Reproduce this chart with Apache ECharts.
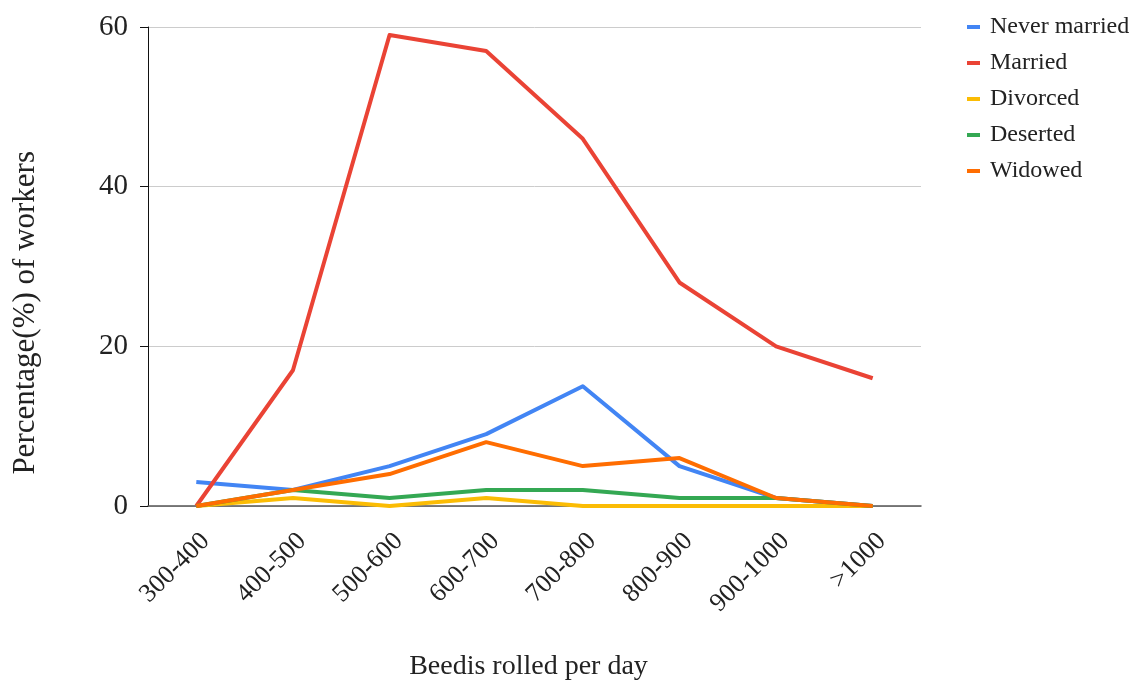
<!DOCTYPE html>
<html>
<head>
<meta charset="utf-8">
<title>Beedis rolled per day by marital status</title>
<script src="https://cdn.jsdelivr.net/npm/echarts@6/dist/echarts.min.js"></script>
<style>
  html, body { margin: 0; padding: 0; background: #fff; }
  #chart { width: 1137px; height: 686px; }
</style>
</head>
<body>
<div id="chart"></div>
<script>
// Output ranges (beedis rolled per day)
const categories = ['300-400', '400-500', '500-600', '600-700', '700-800', '800-900', '900-1000', '>1000'];

// Percentage of workers in each marital-status group
const neverMarried = [3, 2, 5, 9, 15, 5, 1, 0];
const married      = [0, 17, 59, 57, 46, 28, 20, 16];
const divorced     = [0, 1, 0, 1, 0, 0, 0, 0];
const deserted     = [0, 2, 1, 2, 2, 1, 1, 0];
const widowed      = [0, 2, 4, 8, 5, 6, 1, 0];

const seriesNames = ['Never married', 'Married', 'Divorced', 'Deserted', 'Widowed'];
const yTicks = [0, 20, 40, 60];

const FONT = "'Liberation Serif', 'Times New Roman', serif";
const colors = ['#4285f4', '#ea4335', '#fbbc04', '#34a853', '#ff6d01'];
const seriesData = [neverMarried, married, divorced, deserted, widowed];

const chart = echarts.init(document.getElementById('chart'), null, { renderer: 'canvas' });

chart.setOption({
  animation: false,
  backgroundColor: '#ffffff',
  color: colors,
  textStyle: { fontFamily: FONT },
  grid: { left: 148, right: 216, top: 27, bottom: 177, containLabel: false },
  legend: {
    orient: 'vertical',
    left: 967,
    top: 15,
    padding: 0,
    icon: 'rect',
    itemWidth: 13,
    itemHeight: 4,
    itemGap: 12,
    data: seriesNames,
    textStyle: { fontFamily: FONT, fontSize: 24, color: '#222', lineHeight: 24, padding: [0, 0, 0, 5] }
  },
  xAxis: {
    type: 'category',
    data: categories,
    boundaryGap: true,
    name: 'Beedis rolled per day',
    nameLocation: 'middle',
    nameGap: 147,
    nameTextStyle: { fontFamily: FONT, fontSize: 28, color: '#222', padding: [0, 12, 0, 0] },
    axisLine: { show: true, lineStyle: { color: '#555', width: 1.5 } },
    axisTick: { show: false },
    axisLabel: {
      rotate: 45, fontFamily: FONT, fontSize: 26, color: '#222',
      margin: 22, interval: 0, verticalAlign: 'top'
    },
    splitLine: { show: false }
  },
  yAxis: {
    type: 'value',
    min: yTicks[0],
    max: yTicks[yTicks.length - 1],
    interval: yTicks[1] - yTicks[0],
    axisLine: { show: true, lineStyle: { color: '#111', width: 1 } },
    axisTick: { show: true, length: 8, lineStyle: { color: '#111' } },
    axisLabel: { fontFamily: FONT, fontSize: 29, color: '#222', margin: 20 },
    splitLine: { show: true, lineStyle: { color: '#cccccc', width: 1 } }
  },
  graphic: [{
    type: 'text',
    left: 10,
    top: 151,
    rotation: Math.PI / 2,
    style: {
      text: 'Percentage(%) of workers',
      font: '31px ' + FONT,
      fill: '#222'
    }
  }],
  series: seriesNames.map((name, i) => ({
    name: name,
    type: 'line',
    data: seriesData[i],
    showSymbol: false,
    symbol: 'none',
    lineStyle: { width: 4, color: colors[i], join: 'round' },
    itemStyle: { color: colors[i] },
    z: 2 + i
  }))
});
</script>
</body>
</html>
